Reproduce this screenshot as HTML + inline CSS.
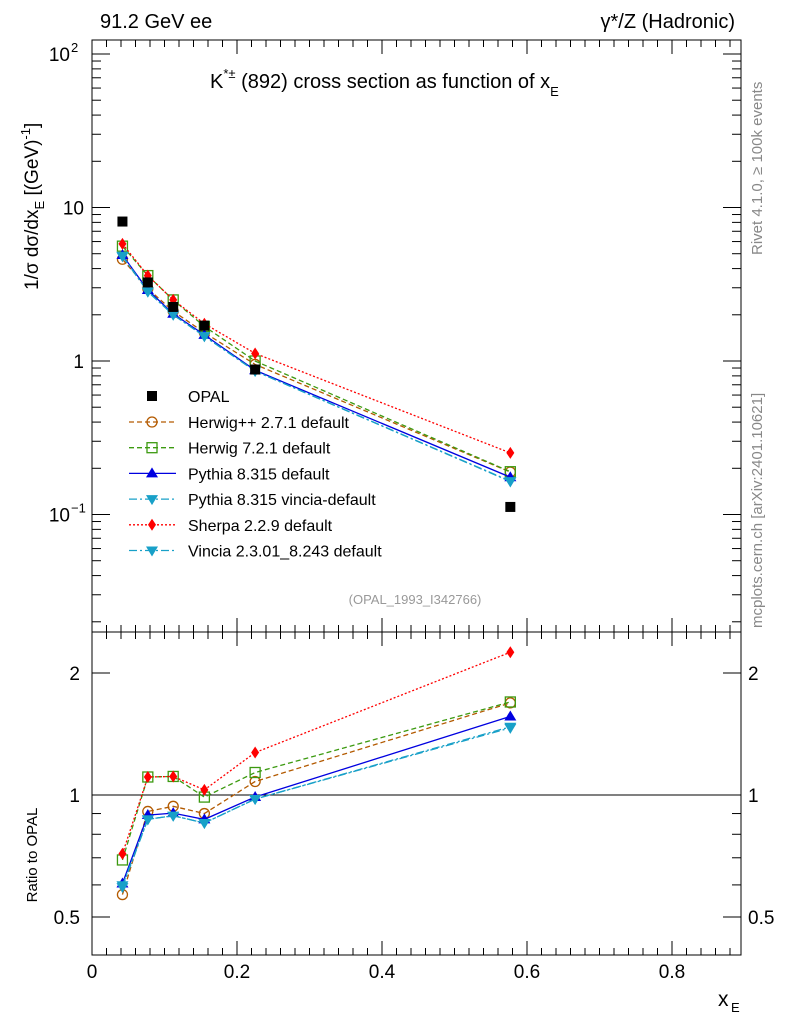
<!DOCTYPE html>
<html><head><meta charset="utf-8"><style>
body{margin:0;background:#fff;font-family:"Liberation Sans",sans-serif}
svg text{font-family:"Liberation Sans","DejaVu Sans",sans-serif}
</style></head><body>
<svg id="c" width="786" height="1024" xmlns="http://www.w3.org/2000/svg"></svg>
<script>
const xVals=[0.042,0.077,0.112,0.155,0.225,0.577];
const opal=[8.1,3.25,2.25,1.7,0.88,0.112];
const herwigpp=[4.6,2.96,2.11,1.53,0.95,0.189];
const herwig7=[5.6,3.6,2.5,1.68,1.0,0.190];
const pythia=[4.9,2.9,2.03,1.48,0.87,0.175];
const pythiaVincia=[4.85,2.83,2.0,1.45,0.86,0.165];
const sherpa=[5.8,3.6,2.5,1.75,1.12,0.252];
const vincia=[4.8,2.83,2.0,1.45,0.86,0.164];
const xTicks=[0,0.2,0.4,0.6,0.8];
const xTickLabels=["0","0.2","0.4","0.6","0.8"];

const S=document.getElementById('c');const NS="http://www.w3.org/2000/svg";
function el(t,a,p){const e=document.createElementNS(NS,t);for(const k in a)e.setAttribute(k,a[k]);(p||S).appendChild(e);return e;}
const L=92,R=741;
const X=v=>92+v*725;
const Y=v=>361-Math.log10(v)*153.5;
const YR=v=>795-Math.log2(v)*122;
const T1=40,B1=632,T2=632,B2=955;

let f=el('rect',{x:L,y:T1,width:R-L,height:B1-T1,fill:'none',stroke:'#000','stroke-width':1});

f=el('rect',{x:L,y:T2,width:R-L,height:B2-T2,fill:'none',stroke:'#000','stroke-width':1});


for(let v=0;v<=0.9001;v+=0.02){const x=X(v);if(x>R)break;const major=Math.abs(v/0.2-Math.round(v/0.2))<1e-6;const len=major?14:7;
 el('line',{x1:x,x2:x,y1:B1,y2:B1-len,stroke:'#000'});el('line',{x1:x,x2:x,y1:T1,y2:T1+len,stroke:'#000'});
 el('line',{x1:x,x2:x,y1:B2,y2:B2-len,stroke:'#000'});el('line',{x1:x,x2:x,y1:T2,y2:T2+len,stroke:'#000'});}
xTicks.forEach((v,i)=>{const t=el('text',{x:X(v),y:978,'font-size':19,'text-anchor':'middle'});t.textContent=xTickLabels[i];
 });
let t=el('text',{x:718,y:1006,'font-size':21});t.textContent='x';
el('text',{x:731,y:1012,'font-size':13}).textContent='E';

for(let d=-2;d<=2;d++){for(let m=1;m<10;m++){const v=m*Math.pow(10,d);const y=Y(v);if(y<T1||y>B1)continue;const len=m==1?18:9;
 el('line',{x1:L,x2:L+len,y1:y,y2:y,stroke:'#000'});el('line',{x1:R,x2:R-len,y1:y,y2:y,stroke:'#000'});}}
[[100,'10','2'],[10,'10',''],[1,'1',''],[0.1,'10','−1']].forEach(a=>{const y=Y(a[0]);
 const t=el('text',{x:a[2]?70:84,y:y+7,'font-size':19,'text-anchor':'end'});t.textContent=a[1];
 
 if(a[2]){el('text',{x:71,y:y-2,'font-size':13}).textContent=a[2];}});
[0.5,0.6,0.7,0.8,0.9,1,2].forEach(v=>{const y=YR(v);const len=(v==1||v==2||v==0.5)?18:9;
 el('line',{x1:L,x2:L+len,y1:y,y2:y,stroke:'#000'});el('line',{x1:R,x2:R-len,y1:y,y2:y,stroke:'#000'});});
[[0.5,'0.5'],[1,'1'],[2,'2']].forEach(a=>{const y=YR(a[0]);
 let t=el('text',{x:80,y:y+7,'font-size':19,'text-anchor':'end'});t.textContent=a[1];
 t=el('text',{x:748,y:y+7,'font-size':19});t.textContent=a[1];});
el('line',{x1:L,x2:R,y1:YR(1),y2:YR(1),stroke:'#000'});

t=el('text',{x:100,y:28,'font-size':20});t.textContent='91.2 GeV ee';
t=el('text',{x:735,y:28,'font-size':20,'text-anchor':'end'});t.textContent='γ*/Z (Hadronic)';
t=el('text',{x:210,y:88,'font-size':20});
t.innerHTML='K<tspan dy="-10" font-size="13">*±</tspan><tspan dy="10"> (892) cross section as function of x</tspan><tspan dy="8" font-size="13">E</tspan>';
t=el('text',{x:0,y:0,'font-size':19,transform:'translate(38,290) rotate(-90)'});
t.innerHTML='1/σ  dσ/dx<tspan dy="6" font-size="13">E</tspan><tspan dy="-6"> [(GeV)</tspan><tspan dy="-8" font-size="13">-1</tspan><tspan dy="8">]</tspan>';
t=el('text',{x:0,y:0,'font-size':15,transform:'translate(37,855) rotate(-90)','text-anchor':'middle'});t.textContent='Ratio to OPAL';
t=el('text',{x:0,y:0,'font-size':15,fill:'#888',transform:'translate(762,255) rotate(-90)'});t.textContent='Rivet 4.1.0, ≥ 100k events';
t=el('text',{x:0,y:0,'font-size':15,fill:'#888',transform:'translate(762,628) rotate(-90)'});t.textContent='mcplots.cern.ch [arXiv:2401.10621]';
t=el('text',{x:415,y:604,'font-size':13,fill:'#999','text-anchor':'middle'});t.textContent='(OPAL_1993_I342766)';

function marker(type,x,y,c,g){const s=6;
 if(type=='circle')return el('circle',{cx:x,cy:y,r:5,fill:'none',stroke:c,'stroke-width':1.3},g);
 if(type=='osquare')return el('rect',{x:x-5,y:y-5,width:10,height:10,fill:'none',stroke:c,'stroke-width':1.3},g);
 if(type=='square')return el('rect',{x:x-5,y:y-5,width:10,height:10,fill:c},g);
 if(type=='up')return el('polygon',{points:`${x},${y-s} ${x-s},${y+4} ${x+s},${y+4}`,fill:c},g);
 if(type=='down')return el('polygon',{points:`${x},${y+s} ${x-s},${y-4} ${x+s},${y-4}`,fill:c},g);
 if(type=='diamond')return el('polygon',{points:`${x},${y-6} ${x-4},${y} ${x},${y+6} ${x+4},${y}`,fill:c},g);}
const series=[
 {name:'Herwig++ 2.7.1 default',d:herwigpp,c:'#b35a00',dash:'5,3',m:'circle',k:'herwigpp'},
 {name:'Herwig 7.2.1 default',d:herwig7,c:'#3c9a10',dash:'5,3',m:'osquare',k:'herwig7'},
 {name:'Pythia 8.315 default',d:pythia,c:'#0000e0',dash:'',m:'up',k:'pythia'},
 {name:'Pythia 8.315 vincia-default',d:pythiaVincia,c:'#18a0c8',dash:'8,3,2,3',m:'down',k:'pythia-vincia'},
 {name:'Sherpa 2.2.9 default',d:sherpa,c:'#ff0000',dash:'2,2',m:'diamond',k:'sherpa'},
 {name:'Vincia 2.3.01_8.243 default',d:vincia,c:'#18a0c8',dash:'8,3,2,3',m:'down',k:'vincia'}];
series.forEach(s=>{
 const g=el('g',{});
 el('polyline',{points:xVals.map((x,i)=>X(x)+','+Y(s.d[i])).join(' '),fill:'none',stroke:s.c,'stroke-width':1.3,'stroke-dasharray':s.dash},g);
 xVals.forEach((x,i)=>marker(s.m,X(x),Y(s.d[i]),s.c,g));
 const g2=el('g',{});
 el('polyline',{points:xVals.map((x,i)=>X(x)+','+YR(s.d[i]/opal[i])).join(' '),fill:'none',stroke:s.c,'stroke-width':1.3,'stroke-dasharray':s.dash},g2);
 xVals.forEach((x,i)=>marker(s.m,X(x),YR(s.d[i]/opal[i]),s.c,g2));
});
const go=el('g',{});
xVals.forEach((x,i)=>marker('square',X(x),Y(opal[i]),'#000',go));

const lg=el('g',{});
marker('square',152,396,'#000',lg);el('text',{x:188,y:402,'font-size':16},lg).textContent='OPAL';
series.forEach((s,i)=>{const y=422+i*25.7;const e=el('g',{},lg);
 el('line',{x1:129,x2:176,y1:y,y2:y,stroke:s.c,'stroke-width':1.3,'stroke-dasharray':s.dash},e);
 marker(s.m,152,y,s.c,e);el('text',{x:188,y:y+6,'font-size':16},e).textContent=s.name;});
</script>
</body></html>
